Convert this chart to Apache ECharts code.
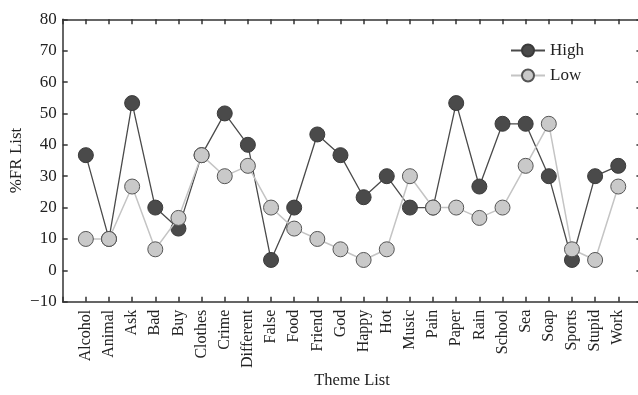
<!DOCTYPE html>
<html>
<head>
<meta charset="utf-8">
<script src="https://cdn.jsdelivr.net/npm/echarts@6/dist/echarts.min.js"></script>
<style>html,body{margin:0;padding:0;background:#fff}#c{width:638px;height:395px}</style>
</head>
<body>
<div id="c"></div>
<script>
const categories = ['Alcohol','Animal','Ask','Bad','Buy','Clothes','Crime','Different','False','Food','Friend','God','Happy','Hot','Music','Pain','Paper','Rain','School','Sea','Soap','Sports','Stupid','Work'];
const highValues = [36.7,10,53.3,20,13.3,36.7,50,40,3.3,20,43.3,36.7,23.3,30,20,20,53.3,26.7,46.7,46.7,30,3.3,30,33.3];
const lowValues = [10,10,26.7,6.7,16.7,36.7,30,33.3,20,13.3,10,6.7,3.3,6.7,30,20,20,16.7,20,33.3,46.7,6.7,3.3,26.7];
const yTicks = [-10,0,10,20,30,40,50,60,70,80];

const font = 'Liberation Serif';
const axisCats = [' '].concat(categories, ['  ']);
const pair = vals => vals.map((v, i) => [categories[i], v]);

const chart = echarts.init(document.getElementById('c'), null, {renderer: 'canvas'});
const lineCol = '#333';
chart.setOption({
  animation: false,
  textStyle: {fontFamily: font},
  grid: {left: 62.7, top: 19.3, width: 578.7, height: 282.4, containLabel: false, outerBoundsMode: 'none'},
  legend: {
    orient: 'vertical', left: 505, top: 37, itemWidth: 34, itemHeight: 15, itemGap: 8,
    textStyle: {fontFamily: font, fontSize: 17, color: '#222'},
    data: ['High', 'Low']
  },
  xAxis: [{
    type: 'category', data: axisCats, boundaryGap: false, position: 'bottom',
    name: 'Theme List', nameLocation: 'middle', nameGap: 70, nameMoveOverlap: false,
    nameTextStyle: {fontFamily: font, fontSize: 16.5, color: '#222'},
    axisLine: {onZero: false, lineStyle: {color: lineCol, width: 1.5}},
    axisTick: {inside: true, length: 5, interval: 0, lineStyle: {color: lineCol, width: 1.5}},
    axisLabel: {rotate: 90, interval: 0, margin: 8, fontFamily: font, fontSize: 16, color: '#222'},
    splitLine: {show: false}
  }, {
    type: 'category', data: axisCats, boundaryGap: false, position: 'top',
    axisLine: {onZero: false, lineStyle: {color: lineCol, width: 1.5}},
    axisTick: {inside: true, length: 5, interval: 0, lineStyle: {color: lineCol, width: 1.5}},
    axisLabel: {show: false}, splitLine: {show: false}
  }],
  yAxis: [{
    type: 'value', min: -10, max: 80, interval: 10, position: 'left',
    name: '%FR List', nameLocation: 'middle', nameGap: 38, nameRotate: 90, nameMoveOverlap: false,
    nameTextStyle: {fontFamily: font, fontSize: 17, color: '#222'},
    axisLine: {show: true, onZero: false, lineStyle: {color: lineCol, width: 1.5}},
    axisTick: {show: true, inside: true, length: 5, lineStyle: {color: lineCol, width: 1.5}},
    axisLabel: {margin: 6, fontFamily: font, fontSize: 17, color: '#222',
      formatter: v => yTicks.indexOf(v) >= 0 ? (v < 0 ? '\u2212' + Math.abs(v) : String(v)) : ''},
    splitLine: {show: false}
  }, {
    type: 'value', min: -10, max: 80, interval: 10, position: 'right',
    axisLine: {show: true, onZero: false, lineStyle: {color: lineCol, width: 1.5}},
    axisTick: {show: true, inside: true, length: 5, lineStyle: {color: lineCol, width: 1.5}},
    axisLabel: {show: false}, splitLine: {show: false}
  }],
  series: [{
    name: 'High', type: 'line', data: pair(highValues), xAxisIndex: 0, yAxisIndex: 0,
    symbol: 'circle', symbolSize: 15,
    lineStyle: {color: '#4a4a4a', width: 1.3},
    itemStyle: {color: '#4a4a4a', borderColor: '#3a3a3a', borderWidth: 1},
    z: 2
  }, {
    name: 'Low', type: 'line', data: pair(lowValues), xAxisIndex: 0, yAxisIndex: 0,
    symbol: 'circle', symbolSize: 15,
    lineStyle: {color: '#c4c4c4', width: 1.5},
    itemStyle: {color: '#c9c9c9', borderColor: '#555', borderWidth: 1},
    z: 3
  }]
});
</script>
</body>
</html>
